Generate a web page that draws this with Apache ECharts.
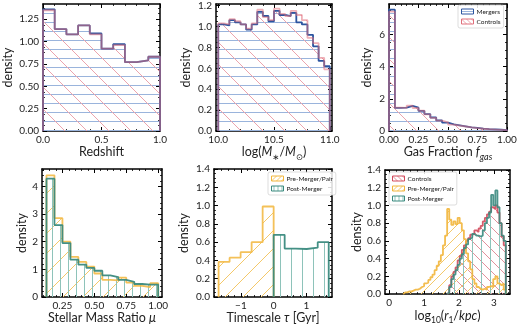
<!DOCTYPE html>
<html>
<head>
<meta charset="utf-8">
<script src="https://cdn.jsdelivr.net/npm/echarts@6/dist/echarts.min.js"></script>
<style>
  html, body { margin: 0; padding: 0; background: #fff; }
  #chart { width: 520px; height: 326px; }
</style>
</head>
<body>
<div id="chart"></div>
<script>
const FONT = 'Lato, "DejaVu Sans", sans-serif'

// ---- panel 1: redshift, bins of 0.1 ----
const zStart = 0, zWidth = 0.1
const mergersZ = [1.36, 1.14, 1.08, 1.18, 1.09, 0.92, 0.97, 0.77, 0.79, 0.83]
const controlsZ = [1.35, 1.14, 1.08, 1.18, 1.08, 0.92, 0.96, 0.77, 0.79, 0.83]

// ---- panel 2: stellar mass, bins of 0.05 ----
const mStart = 10, mWidth = 0.05
const mergersM = [1.02, 1.01, 1.06, 1.04, 1.02, 0.97, 1.02, 1.14, 1.10, 1.05, 1.15, 1.11, 1.10, 1.13, 1.04, 1.02, 0.92, 0.81, 0.67, 0.62]
const controlsM = [1.03, 1.02, 1.07, 1.05, 1.02, 0.98, 1.03, 1.16, 1.09, 1.06, 1.17, 1.12, 1.10, 1.15, 1.11, 1.06, 0.89, 0.84, 0.70, 0.59]

// ---- panel 3: gas fraction, bins of 0.05 ----
const gStart = 0, gWidth = 0.05
const mergersG = [7.55, 1.44, 1.45, 1.56, 1.45, 1.25, 1.05, 0.84, 0.66, 0.52, 0.41, 0.35, 0.29, 0.23, 0.19, 0.15, 0.12, 0.10, 0.08, 0.06]
const controlsG = [7.42, 1.46, 1.44, 1.58, 1.43, 1.27, 1.04, 0.82, 0.65, 0.53, 0.40, 0.34, 0.28, 0.22, 0.18, 0.14, 0.11, 0.09, 0.07, 0.05]

// ---- panel 4: stellar mass ratio, bins of 1/16 ----
const muStart = 0.125, muWidth = 0.0625
const preMu = [4.40, 2.85, 2.00, 1.45, 1.27, 1.10, 0.85, 0.62, 0.60, 0.70, 0.52, 0.40, 0.36, 0.50]
const postMu = [4.28, 2.60, 1.95, 1.35, 1.17, 1.05, 0.95, 0.78, 0.72, 0.62, 0.55, 0.47, 0.45, 0.45]

// ---- panel 5: timescale ----
const tauWidth = 0.336
const preTauStart = -1.68, postTauStart = 0
const preTau = [0.385, 0.43, 0.49, 0.60, 0.99]
const postTau = [0.68, 0.53, 0.525, 0.54, 0.60]

// ---- panel 6: log10 r1, bins of 0.06 ----
const rWidth = 0.06
const preRStart = 0.40, ctrlRStart = 1.66, postRStart = 1.66
const preR = [0.02, 0.02, 0.03, 0.03, 0.04, 0.05, 0.05, 0.06, 0.08, 0.09, 0.12, 0.13, 0.16, 0.19, 0.22, 0.27, 0.32, 0.37, 0.44, 0.55,
  0.66, 0.96, 0.84, 0.78, 0.82, 0.79, 0.86, 0.80, 0.72, 0.62, 0.46, 0.37, 0.28, 0.17, 0.12, 0.08, 0.06, 0.05, 0.06, 0.05,
  0.08, 0.09, 0.08, 0.17, 0.20, 0.12, 0.10, 0.12, 0.05]
const ctrlR = [0.02, 0.10, 0.20, 0.25, 0.30, 0.38, 0.43, 0.50, 0.55, 0.60, 0.63, 0.67, 0.68, 0.72, 0.70, 0.74, 0.77, 0.82, 0.86, 0.90,
  0.93, 0.98, 0.96, 1.00, 0.92, 0.80, 0.65, 0.55]
const postR = [0.02, 0.08, 0.17, 0.22, 0.27, 0.33, 0.40, 0.45, 0.52, 0.56, 0.62, 0.64, 0.68, 0.66, 0.66, 0.65, 0.66, 0.72, 0.80, 0.86,
  0.92, 1.12, 1.00, 1.17, 0.98, 0.80, 0.66, 0.60]

// ---- tick labels ----
const zTicks = [0, 0.5, 1.0]
const zDensTicks = [0, 0.25, 0.5, 0.75, 1.0, 1.25]
const mTicks = [10.0, 10.5, 11.0]
const mDensTicks = [0, 0.2, 0.4, 0.6, 0.8, 1.0, 1.2]
const gTicks = [0, 0.25, 0.5, 0.75, 1.0]
const gDensTicks = [0, 2, 4, 6]
const muTicks = [0.25, 0.5, 0.75, 1.0]
const muDensTicks = [0, 1, 2, 3, 4]
const tauTicks = [-1, 0, 1]
const rTicks = [0, 1, 2, 3]
const densTicks14 = [0, 0.2, 0.4, 0.6, 0.8, 1.0, 1.2, 1.4]

// colours
const BLUE = '#2c55a0', BLUE_H = '#9ab4dc'
const PINK = '#e0707c', PINK_H = '#eca4ad'
const GOLD = '#f2b63c', GOLD_H = '#f4c869'
const TEAL = '#3a8a7e', TEAL_H = '#8ec3ba'
const RED = '#d24a5c', RED_H = '#e2909b'

function hatch(kind, color, s) {
  const c = document.createElement('canvas')
  c.width = c.height = s
  const g = c.getContext('2d')
  g.strokeStyle = color
  g.lineWidth = 1
  g.beginPath()
  const h = Math.floor(s / 2) + 0.5
  if (kind === '-') { g.moveTo(0, h); g.lineTo(s, h) }
  else if (kind === '|') { g.moveTo(h, 0); g.lineTo(h, s) }
  else if (kind === '\\') { for (const k of [-1, 0, 1]) { g.moveTo(k * s, 0); g.lineTo(k * s + s, s) } }
  else { for (const k of [-1, 0, 1]) { g.moveTo(k * s, s); g.lineTo(k * s + s, 0) } }
  g.stroke()
  return { image: c, repeat: 'repeat' }
}

// step outline points for a histogram
function stepData(start, width, vals) {
  const d = [[start, 0]]
  vals.forEach((v, i) => d.push([start + i * width, v]))
  const end = start + vals.length * width
  d.push([end, vals[vals.length - 1]])
  d.push([end, 0])
  return d
}

function minors(min, max, ticks, div) {
  const step = (ticks[1] - ticks[0]) / div
  const out = []
  for (let k = Math.ceil(min / step - 1e-6); k * step <= max + 1e-9; k++) {
    const v = +(k * step).toFixed(6)
    if (!ticks.some(t => Math.abs(t - v) < 1e-6)) out.push(v)
  }
  return out
}

const fmt = dec => v => v.toFixed(dec).replace('-', '\u2212')

const nameRich = {
  n: { fontSize: 12.5, fontFamily: FONT, color: '#222', padding: [0, 0, 3, 0], verticalAlign: 'bottom' },
  i: { fontSize: 12.5, fontFamily: FONT, color: '#222', fontStyle: 'italic', padding: [0, 0, 3, 0], verticalAlign: 'bottom' },
  s: { fontSize: 8.5, fontFamily: FONT, color: '#222', verticalAlign: 'bottom' },
  si: { fontSize: 9, fontFamily: FONT, color: '#222', fontStyle: 'italic', verticalAlign: 'bottom' }
}

const panels = [
  {
    grid: { left: 42, top: 4, width: 118, height: 127 },
    x: { min: 0, max: 1, ticks: zTicks, div: 5, dec: 1, name: '{n|Redshift}', gap: 11 },
    y: { min: 0, max: 1.42, ticks: zDensTicks, div: 4, dec: 2, gap: 29 },
    series: [
      { name: 'Mergers', start: zStart, width: zWidth, vals: mergersZ, line: BLUE, fill: hatch('-', BLUE_H, 9), op: 1 },
      { name: 'Controls', start: zStart, width: zWidth, vals: controlsZ, line: PINK, fill: hatch('\\', PINK_H, 22), op: 0.55 }
    ]
  },
  {
    grid: { left: 216, top: 4, width: 116, height: 127 },
    x: { min: 9.98, max: 11.02, ticks: mTicks, div: 5, dec: 1, name: '{n|log(}{i|M}{s|\u2217}{n|/}{i|M}{s|\u2299}{n|)}', gap: 11 },
    y: { min: 0, max: 1.215, ticks: mDensTicks, div: 4, dec: 1, gap: 24 },
    series: [
      { name: 'Mergers', start: mStart, width: mWidth, vals: mergersM, line: BLUE, fill: hatch('-', BLUE_H, 9), op: 1 },
      { name: 'Controls', start: mStart, width: mWidth, vals: controlsM, line: PINK, fill: hatch('\\', PINK_H, 22), op: 0.55 }
    ]
  },
  {
    grid: { left: 389, top: 4, width: 118, height: 127 },
    x: { min: 0, max: 1, ticks: gTicks, div: 5, dec: 2, name: '{n|Gas Fraction }{i|f}{si|gas}', gap: 11 },
    y: { min: 0, max: 7.9, ticks: gDensTicks, div: 4, dec: 0, gap: 16 },
    series: [
      { name: 'Mergers', start: gStart, width: gWidth, vals: mergersG, line: BLUE, fill: hatch('-', BLUE_H, 9), op: 1 },
      { name: 'Controls', start: gStart, width: gWidth, vals: controlsG, line: PINK, fill: hatch('\\', PINK_H, 22), op: 0.55 }
    ]
  },
  {
    grid: { left: 42, top: 169, width: 120, height: 128 },
    x: { min: 0.09, max: 1.03, ticks: muTicks, div: 5, dec: 2, name: '{n|Stellar Mass Ratio }{i|\u03bc}', gap: 11 },
    y: { min: 0, max: 4.63, ticks: muDensTicks, div: 5, dec: 0, gap: 14 },
    series: [
      { name: 'Pre-Merger/Pair', start: muStart, width: muWidth, vals: preMu, line: GOLD, fill: hatch('/', GOLD_H, 20), op: 0.85 },
      { name: 'Post-Merger', start: muStart, width: muWidth, vals: postMu, line: TEAL, fill: hatch('|', TEAL_H, 8), op: 0.95 }
    ]
  },
  {
    grid: { left: 214, top: 169, width: 118, height: 128 },
    x: { min: -1.82, max: 1.78, ticks: tauTicks, div: 5, dec: 0, name: '{n|Timescale }{i|\u03c4}{n| [Gyr]}', gap: 11 },
    y: { min: 0, max: 1.4, ticks: densTicks14, div: 4, dec: 1, gap: 24 },
    series: [
      { name: 'Pre-Merger/Pair', start: preTauStart, width: tauWidth, vals: preTau, line: GOLD, fill: hatch('/', GOLD_H, 18), op: 0.85 },
      { name: 'Post-Merger', start: postTauStart, width: tauWidth, vals: postTau, line: TEAL, fill: hatch('|', TEAL_H, 11), op: 0.95 }
    ]
  },
  {
    grid: { left: 385, top: 170, width: 125, height: 127 },
    x: { min: -0.12, max: 3.46, ticks: rTicks, div: 5, dec: 0, name: '{n|log}{s|10}{n|(}{i|r}{s|1}{n|/}{i|kpc}{n|)}', gap: 11 },
    y: { min: 0, max: 1.4, ticks: densTicks14, div: 4, dec: 1, gap: 20 },
    series: [
      { name: 'Controls', start: ctrlRStart, width: rWidth, vals: ctrlR, line: RED, fill: hatch('\\', RED_H, 11), op: 0.9 },
      { name: 'Pre-Merger/Pair', start: preRStart, width: rWidth, vals: preR, line: GOLD, fill: hatch('/', GOLD_H, 11), op: 0.9 },
      { name: 'Post-Merger', start: postRStart, width: rWidth, vals: postR, line: TEAL, fill: hatch('|', TEAL_H, 9), op: 0.9 }
    ]
  }
]

const grid = [], xAxis = [], yAxis = [], series = []

function axisSet(gi, a, dim) {
  const pos = dim === 'x' ? ['bottom', 'top'] : ['left', 'right']
  const mins = minors(a.min, a.max, a.ticks, a.div)
  const base = { gridIndex: gi, type: 'value', min: a.min, max: a.max, splitLine: { show: false } }
  const line = { show: true, onZero: false, lineStyle: { color: '#000', width: 1.5 } }
  const list = []
  pos.forEach((p, side) => {
    list.push(Object.assign({}, base, {
      position: p,
      axisLine: line,
      axisTick: { show: true, inside: true, length: 4, customValues: a.ticks, lineStyle: { color: '#000', width: 1 } },
      axisLabel: side === 0
        ? { show: true, customValues: a.ticks, formatter: fmt(a.dec), fontSize: 10, fontFamily: FONT, color: '#222', margin: 4 }
        : { show: false },
      name: side === 0 ? (dim === 'x' ? a.name : 'density') : '',
      nameLocation: 'middle',
      nameGap: a.gap,
      nameTextStyle: { fontSize: 12.5, fontFamily: FONT, color: '#222', rich: nameRich }
    }))
    list.push(Object.assign({}, base, {
      position: p,
      axisLine: { show: false, onZero: false },
      axisTick: { show: true, inside: true, length: 2, customValues: mins, lineStyle: { color: '#000', width: 0.8 } },
      axisLabel: { show: false }
    }))
  })
  return list
}

panels.forEach((p, gi) => {
  grid.push(p.grid)
  xAxis.push(...axisSet(gi, p.x, 'x'))
  yAxis.push(...axisSet(gi, p.y, 'y'))
  p.series.forEach(s => {
    series.push({
      type: 'line',
      name: s.name,
      xAxisIndex: gi * 4,
      yAxisIndex: gi * 4,
      step: 'end',
      symbol: 'none',
      data: stepData(s.start, s.width, s.vals),
      lineStyle: { color: s.line, width: 1.8, opacity: s.op },
      itemStyle: { color: s.line },
      areaStyle: { color: s.fill, opacity: 1 },
      emphasis: { disabled: true }
    })
  })
})

const legendBase = {
  orient: 'vertical', selectedMode: false, icon: 'rect',
  itemWidth: 12, itemHeight: 5, itemGap: 3, padding: [3, 3, 3, 3],
  borderColor: '#cfcfcf', borderWidth: 0.7, borderRadius: 2,
  backgroundColor: 'rgba(255,255,255,0.85)',
  textStyle: { fontSize: 6.5, fontFamily: FONT, color: '#222', padding: [0, 0, 0, -2] }
}
const item = (name, fill, line) => ({ name, icon: 'rect', itemStyle: { color: fill, borderColor: line, borderWidth: 1 } })

const option = {
  animation: false,
  backgroundColor: '#fff',
  grid,
  xAxis,
  yAxis,
  legend: [
    Object.assign({}, legendBase, { left: 458, top: 5, data: [item('Mergers', hatch('-', BLUE_H, 4), BLUE), item('Controls', hatch('\\', PINK_H, 5), PINK)] }),
    Object.assign({}, legendBase, { left: 268, top: 172, data: [item('Pre-Merger/Pair', hatch('/', GOLD_H, 5), GOLD), item('Post-Merger', hatch('|', TEAL_H, 4), TEAL)] }),
    Object.assign({}, legendBase, { left: 389, top: 172, data: [item('Controls', hatch('\\', RED_H, 5), RED), item('Pre-Merger/Pair', hatch('/', GOLD_H, 5), GOLD), item('Post-Merger', hatch('|', TEAL_H, 4), TEAL)] })
  ],
  series
}

const chart = echarts.init(document.getElementById('chart'))
chart.setOption(option)
</script>
</body>
</html>
